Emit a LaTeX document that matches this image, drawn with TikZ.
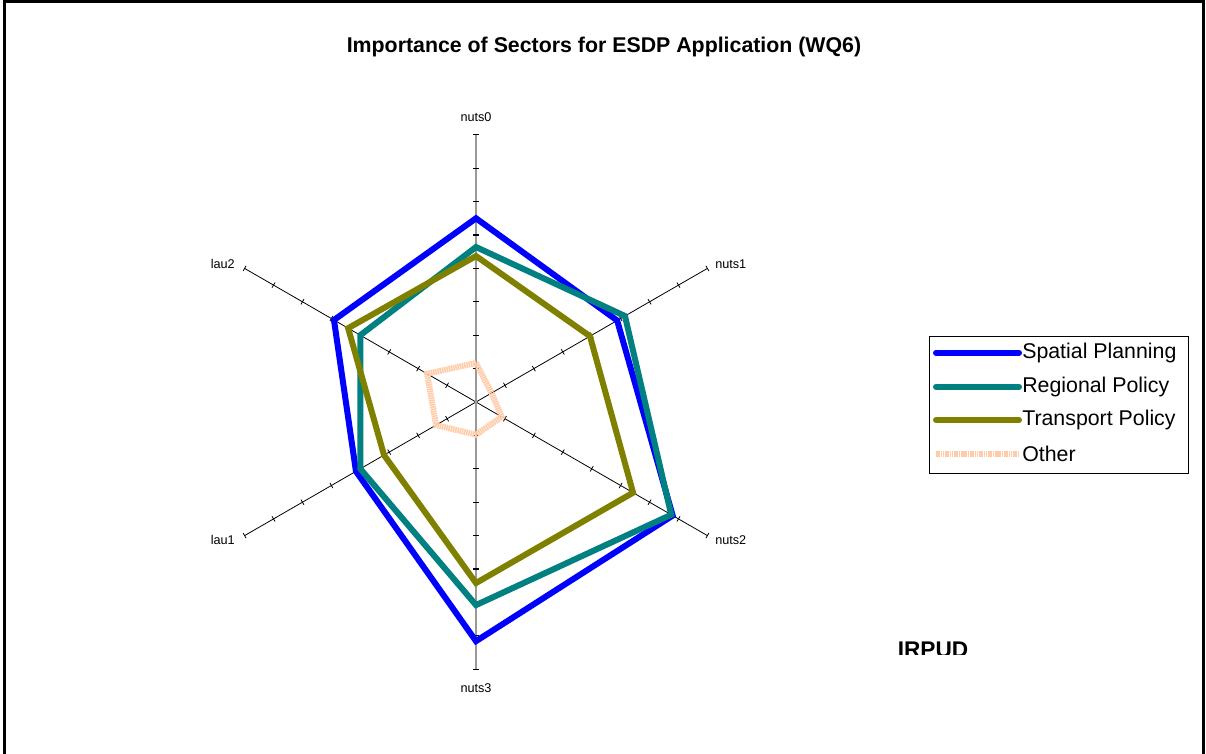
\documentclass[tikz,border=0pt]{standalone}
\usepackage{fontspec}
\setmainfont{Liberation Sans}
\usepackage{tikz}
\usetikzlibrary{positioning,calc}

\definecolor{spatial}{RGB}{0,0,255}
\definecolor{regional}{RGB}{0,128,128}
\definecolor{transport}{RGB}{128,128,0}
\definecolor{other}{RGB}{255,204,170}

\begin{document}
\begin{tikzpicture}[
    x=0.75pt, y=0.75pt,
    series/.style={line width=4.5pt, line join=miter},
    spoke/.style={draw=black, line width=0.6pt},
    axlabel/.style={font=\fontsize{9.5}{11}\selectfont, inner sep=0pt},
    legtext/.style={font=\fontsize{16}{18}\selectfont, anchor=west, inner sep=0pt}
]
\useasboundingbox (0,0) rectangle (1206,-753);
% frame
\draw[line width=2.25pt] (4.5,-760) -- (4.5,-1.5) -- (1203.5,-1.5) -- (1203.5,-760);

% title
\node[font=\bfseries\fontsize{16}{18}\selectfont] (title) at (604,-47) {Importance of Sectors for ESDP Application (WQ6)};

% radar
\coordinate (c) at (476,-402);
\begin{scope}[shift={(c)}, x=25.05pt, y=25.05pt]
  % spokes
  \foreach \a/\n in {30/s1, -30/s2, -150/s4, 150/s5}{
    \coordinate (\n) at (\a:8);
    \draw[spoke] (0,0) -- (\n);
    \foreach \k in {1,...,8}
      \draw[spoke] ($(\a:\k)+(\a+90:0.09)$) -- ($(\a:\k)+(\a-90:0.09)$);
  }
  \coordinate (s0) at (90:8);
  \coordinate (s3) at (-90:8);
  \draw[gray!80, line width=1.5pt] (s0) -- (s3);
  \foreach \k in {1,...,8}{
    \draw[line width=1pt] (-0.08,\k) -- (0.08,\k);
    \draw[line width=1pt] (-0.08,-\k) -- (0.08,-\k);
  }

  % series
  \draw[series, other, dash pattern=on 1.2pt off 0.5pt]
    (90:1.17) -- (30:0.54) -- (-30:0.89) -- (-90:0.98) -- (-150:1.38) -- (150:1.69) -- cycle;
  \draw[series, spatial]
    (90:5.5) -- (30:4.88) -- (-30:6.8) -- (-90:7.16) -- (-150:4.15) -- (150:4.91) -- cycle;
  \draw[series, regional]
    (90:4.64) -- (30:5.15) -- (-30:6.75) -- (-90:6.08) -- (-150:4.0) -- (150:4.0) -- cycle;
  \draw[series, transport]
    (90:4.37) -- (30:3.94) -- (-30:5.43) -- (-90:5.42) -- (-150:3.18) -- (150:4.42) -- cycle;
\end{scope}

% axis labels
\node[axlabel] (l0) at (476,-117) {nuts0};
\node[axlabel, anchor=west] (l1) at (715,-264) {nuts1};
\node[axlabel, anchor=west] (l2) at (715,-540) {nuts2};
\node[axlabel] (l3) at (476,-688) {nuts3};
\node[axlabel, anchor=east] (l4) at (235,-540) {lau1};
\node[axlabel, anchor=east] (l5) at (235,-264) {lau2};

% legend
\node[draw, line width=0.6pt, minimum width=194.25pt, minimum height=102.75pt, inner sep=0pt] (legend) at (1058.5,-404.5) {};
\foreach \y/\col/\txt/\n in {-352.7/spatial/Spatial Planning/e1, -386.7/regional/Regional Policy/e2, -420/transport/Transport Policy/e3, -454/other/Other/e4}{
  \coordinate (\n a) at (936,\y);
  \coordinate (\n b) at (1019,\y);
  \node[legtext] (\n) at (1022,\y) {\txt};
}
\draw[line width=4.5pt, spatial, line cap=round] (e1a) -- (e1b);
\draw[line width=4.5pt, regional, line cap=round] (e2a) -- (e2b);
\draw[line width=4.5pt, transport, line cap=round] (e3a) -- (e3b);
\draw[line width=4.5pt, other, dash pattern=on 1.2pt off 0.5pt] (e4a) -- (e4b);

% source
\begin{scope}
  \clip (850,-600) rectangle (1000,-654);
  \node[font=\bfseries\fontsize{17}{19}\selectfont, anchor=base] (src) at (933,-657) {IRPUD};
\end{scope}
\end{tikzpicture}
\end{document}
